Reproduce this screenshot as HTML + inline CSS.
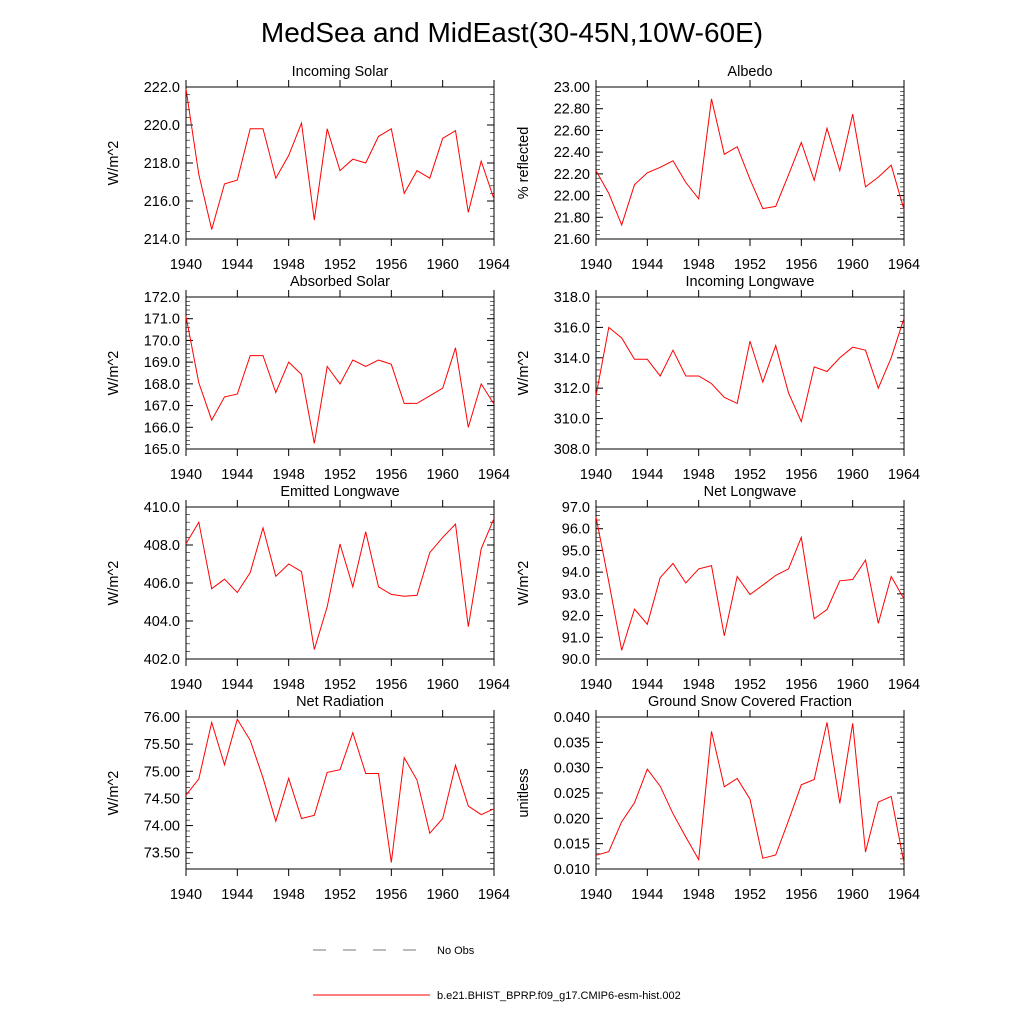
<!DOCTYPE html>
<html><head><meta charset="utf-8"><style>
body{margin:0;background:#fff;}
svg{display:block;font-family:"Liberation Sans",sans-serif;}
</style></head><body>
<svg id="fig" width="1024" height="1024" viewBox="0 0 1024 1024">
<text x="512" y="42" text-anchor="middle" font-size="28">MedSea and MidEast(30-45N,10W-60E)</text>
<g>
<line x1="313" y1="950" x2="420" y2="950" stroke="#777" stroke-width="1" stroke-dasharray="13,17"/>
<text x="437" y="954" font-size="11">No Obs</text>
<line x1="313" y1="995" x2="430" y2="995" stroke="#f00" stroke-width="1"/>
<text x="437" y="999" font-size="11">b.e21.BHIST_BPRP.f09_g17.CMIP6-esm-hist.002</text>
</g>
</svg>
<script>
const years=[1940,1941,1942,1943,1944,1945,1946,1947,1948,1949,1950,1951,1952,1953,1954,1955,1956,1957,1958,1959,1960,1961,1962,1963,1964];
const xTicks=[1940,1944,1948,1952,1956,1960,1964];
const incomingSolar=[221.9,217.4,214.5,216.9,217.1,219.8,219.8,217.2,218.4,220.1,215.0,219.8,217.6,218.2,218.0,219.4,219.8,216.4,217.6,217.2,219.3,219.7,215.4,218.1,216.1];
const albedo=[22.23,22.02,21.73,22.10,22.21,22.26,22.32,22.12,21.97,22.89,22.38,22.45,22.15,21.88,21.90,22.19,22.49,22.14,22.62,22.23,22.75,22.08,22.17,22.28,21.87];
const absorbedSolar=[171.1,168.05,166.33,167.4,167.53,169.3,169.3,167.6,169.0,168.43,165.26,168.8,168.0,169.1,168.8,169.1,168.9,167.1,167.1,167.45,167.8,169.66,166.0,168.0,167.07];
const incomingLW=[311.5,316.0,315.3,313.9,313.9,312.8,314.5,312.8,312.8,312.3,311.4,311.0,315.1,312.4,314.8,311.7,309.8,313.4,313.1,314.0,314.7,314.5,312.0,314.0,316.6];
const emittedLW=[408.07,409.2,405.7,406.2,405.5,406.55,408.9,406.35,407.0,406.6,402.5,404.75,408.05,405.8,408.7,405.8,405.4,405.3,405.35,407.6,408.4,409.1,403.7,407.8,409.4];
const netLW=[96.54,93.55,90.4,92.3,91.6,93.75,94.4,93.5,94.15,94.3,91.07,93.8,92.97,93.4,93.85,94.15,95.6,91.85,92.28,93.6,93.66,94.56,91.64,93.8,92.77];
const netRad=[74.56,74.86,75.90,75.12,75.96,75.57,74.88,74.08,74.87,74.13,74.19,74.98,75.03,75.71,74.96,74.96,73.32,75.25,74.84,73.86,74.13,75.11,74.36,74.20,74.31];
const snowFrac=[0.0127,0.01343,0.01933,0.02307,0.0297,0.02635,0.02091,0.01631,0.01185,0.03718,0.02622,0.02786,0.02379,0.01211,0.01277,0.01953,0.02661,0.02766,0.03895,0.02294,0.03875,0.01336,0.0232,0.02432,0.01119];
const titles=["Incoming Solar","Albedo","Absorbed Solar","Incoming Longwave","Emitted Longwave","Net Longwave","Net Radiation","Ground Snow Covered Fraction"];
const yLabels=["W/m^2","% reflected","W/m^2","W/m^2","W/m^2","W/m^2","W/m^2","unitless"];
const yMins=[214,21.6,165,308,402,90,73.2,0.010];
const yMaxs=[222,23.0,172,318,410,97,76.0,0.040];
const yStarts=[214,21.6,165,308,402,90,73.5,0.010];
const ySteps=[2,0.2,1,2,2,1,0.5,0.005];
const yDec=[1,2,1,1,1,1,2,3];
const series=[incomingSolar,albedo,absorbedSolar,incomingLW,emittedLW,netLW,netRad,snowFrac];
const NS="http://www.w3.org/2000/svg";
const svg=document.getElementById('fig');
function mk(tag,attrs,parent){const e=document.createElementNS(NS,tag);for(const k in attrs)e.setAttribute(k,attrs[k]);(parent||svg).appendChild(e);return e;}
const lefts=[186,596],tops=[87,297,507,717],W=308,H=152;
for(let p=0;p<8;p++){
 const x0=lefts[p%2],y0=tops[Math.floor(p/2)];
 const g=mk('g',{});
 
 
 const xs=v=>x0+(v-1940)/24*W;
 const ys=v=>y0+H-(v-yMins[p])/(yMaxs[p]-yMins[p])*H;
 const fr=mk('rect',{x:x0,y:y0,width:W,height:H,fill:'none',stroke:'#000','stroke-width':1},g);
 
 
 xTicks.forEach(t=>{
  const X=xs(t);
  mk('line',{x1:X,y1:y0+H,x2:X,y2:y0+H+7,stroke:'#000'},g);
  mk('line',{x1:X,y1:y0,x2:X,y2:y0-7,stroke:'#000'},g);
  const tl=mk('text',{x:X,y:y0+H+30,'text-anchor':'middle','font-size':14.5},g);
  tl.textContent=t;
  
  
 });
 const step=ySteps[p],minor=step/5;
 for(let v=yStarts[p];v<=yMaxs[p]+1e-9;v+=step){
  const Y=ys(v);
  mk('line',{x1:x0,y1:Y,x2:x0+7,y2:Y,stroke:'#000'},g);
  mk('line',{x1:x0+W,y1:Y,x2:x0+W-7,y2:Y,stroke:'#000'},g);
  const tl=mk('text',{x:x0-6,y:Y+5,'text-anchor':'end','font-size':14.5},g);
  tl.textContent=v.toFixed(yDec[p]);
  
  
 }
 for(let v=yMins[p];v<=yMaxs[p]+1e-9;v+=minor){
  const Y=ys(v);
  mk('line',{x1:x0,y1:Y,x2:x0+4,y2:Y,stroke:'#000','stroke-width':0.6},g);
  mk('line',{x1:x0+W,y1:Y,x2:x0+W-4,y2:Y,stroke:'#000','stroke-width':0.6},g);
 }
 const tt=mk('text',{x:x0+W/2,y:y0-11,'text-anchor':'middle','font-size':14.5},g);
 tt.textContent=titles[p];
 
 
 const yl=mk('text',{x:0,y:0,'text-anchor':'middle','font-size':14.5,transform:`translate(${x0-68},${y0+H/2}) rotate(-90)`},g);
 yl.textContent=yLabels[p];
 
 
 const pts=series[p].map((v,i)=>xs(years[i]).toFixed(1)+','+ys(v).toFixed(1)).join(' ');
 const line=mk('polyline',{points:pts,fill:'none',stroke:'#f00','stroke-width':1},g);
 
 
}
</script>
</body></html>
